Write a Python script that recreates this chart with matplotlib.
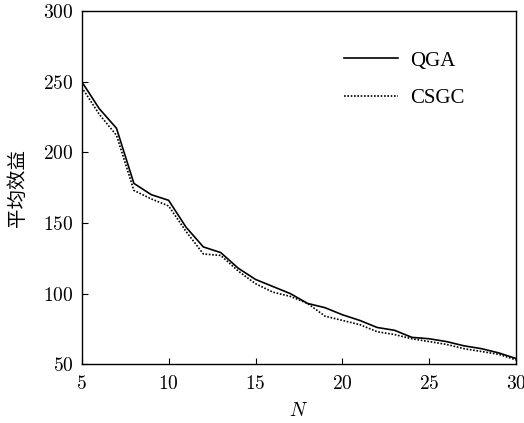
import numpy as np
import matplotlib.pyplot as plt

plt.rcParams['font.family'] = ['cmr10', 'DejaVu Serif']
plt.rcParams['axes.formatter.use_mathtext'] = True
plt.rcParams['mathtext.fontset'] = 'cm'

N = np.arange(5, 31)
qga = [250, 231, 217, 178, 170, 166, 147, 133, 129, 118, 110, 105, 100,
       93, 90, 85, 81, 76, 74, 69, 68, 66, 63, 61, 58, 54]
csgc = [246, 227, 212, 173, 167, 162, 144, 128, 127, 116, 107, 101, 98,
        93, 84, 81, 78, 73, 71, 68, 66, 64, 61, 59, 57, 53]

fig = plt.figure(figsize=(5.24, 4.23), dpi=100)
ax = fig.add_axes([0.156, 0.139, 0.829, 0.835])

ax.plot(N, qga, color='black', lw=1.2, label='QGA')
ax.plot(N, csgc, color='black', lw=1.2, ls=(0, (1, 1)), label='CSGC')

ax.set_xlim(5, 30)
ax.set_ylim(50, 300)
ax.set_xticks([5, 10, 15, 20, 25, 30])
ax.set_yticks([50, 100, 150, 200, 250, 300])
ax.tick_params(direction='in', length=4, labelsize=14, top=False, right=False)
ax.tick_params(axis='x', pad=8)
ax.tick_params(axis='y', pad=6)
for s in ax.spines.values():
    s.set_linewidth(1.0)

ax.set_xlabel('$N$', fontsize=14, labelpad=6)
ax.set_ylabel('平均效益', fontsize=14, family=['Noto Sans CJK SC'], labelpad=11)

leg = ax.legend(loc='upper left', frameon=False, handlelength=2.6,
                handletextpad=0.55, prop={'family': 'Liberation Serif', 'size': 15},
                borderaxespad=0, labelspacing=0.85, bbox_to_anchor=(0.585, 0.91))

fig.savefig('out.png', dpi=100)
